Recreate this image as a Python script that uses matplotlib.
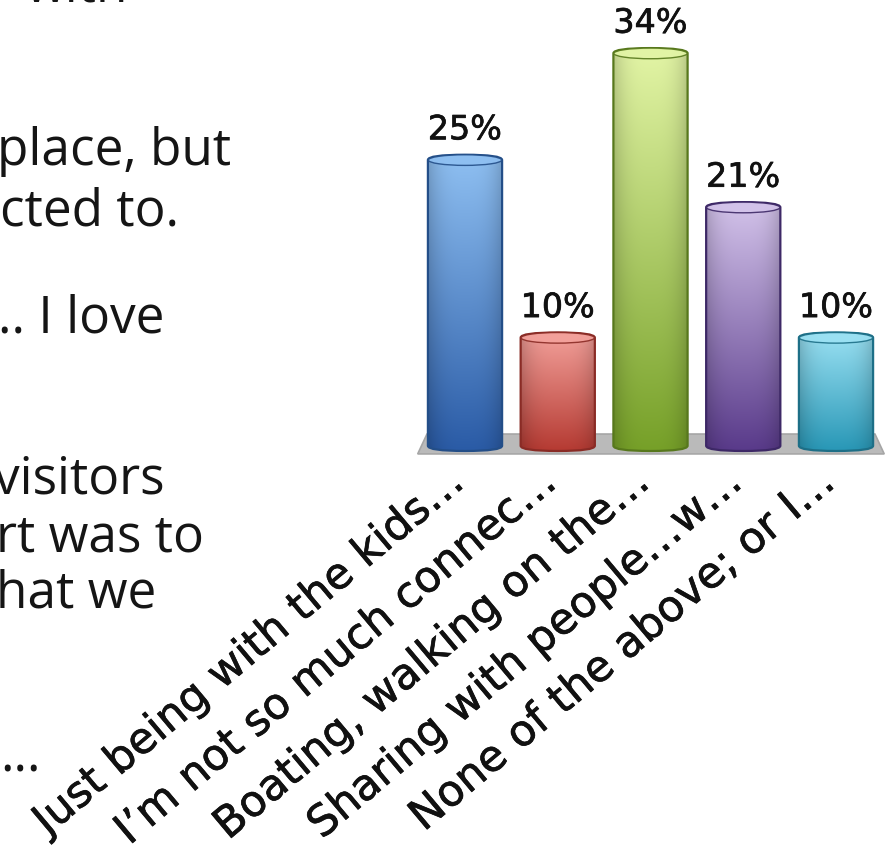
import numpy as np
import matplotlib
matplotlib.use("Agg")
import matplotlib.pyplot as plt
import matplotlib.patheffects as pe
from matplotlib.patches import FancyBboxPatch, Ellipse, Polygon
from matplotlib.colors import to_rgb

respostas = ["Just being with the kids…", "I’m not so much connec…", "Boating, walking on the…",
             "Sharing with people…w…", "None of the above; or I…"]
percentuais = [25, 10, 34, 21, 10]
rotulos = ["25%", "10%", "34%", "21%", "10%"]

cor_topo = ["#8fc0f2", "#f3a19b", "#e3f5a6", "#d3c3ea", "#9be1f3"]
cor_base = ["#2a5ba6", "#b53a32", "#76a028", "#593a8a", "#2897b6"]
cor_borda = ["#234e88", "#8a2b25", "#57781c", "#3d2866", "#1d6f87"]

# texto do slide que fica a esquerda do grafico
linhas_slide = [("with", 25, 2), ("place, but", -3, 165), ("cted to.", 0, 226),
                (".. I love", -2, 332), ("visitors", -6, 493), ("rt was to", -4, 551),
                ("hat we", -4, 608), ("...", 0, 772)]

fig = plt.figure(figsize=(8.88, 8.52), dpi=100)
W, H = 888, 852

for texto, px, py in linhas_slide:
    fig.text(px / W, 1 - py / H, texto, fontsize=37, family="Open Sans",
             color="#151515", va="baseline", ha="left")

# contorno leve para engrossar as letras do grafico
grosso = [pe.withStroke(linewidth=0.5, foreground="#111111")]

# eixo do grafico de barras
esc = 11.85
ax = fig.add_axes([409.35 / W, 379.7 / H, 5.15 * 92.75 / W, 38.3 * esc / H])
ax.patch.set_visible(False)
for lado in ax.spines.values():
    lado.set_visible(False)
ax.yaxis.set_visible(False)

x = np.arange(len(percentuais))
barras = ax.bar(x, percentuais, width=0.8, color="none", edgecolor="none")

# piso cinza
n = len(percentuais)
piso = Polygon([(-0.51, -0.25), (n - 0.48, -0.25), (n - 0.58, 1.43), (-0.41, 1.43)],
               closed=True, facecolor="#bababa", edgecolor="#a6a6a6", lw=1.2, zorder=1)
ax.add_patch(piso)

for i, b in enumerate(barras):
    x0, w, h = b.get_x(), b.get_width(), b.get_height()
    r = w / 2
    forma = FancyBboxPatch((x0, 0), w, h, boxstyle=f"round,pad=0,rounding_size={r}",
                           mutation_aspect=1.1, facecolor="none",
                           edgecolor=cor_borda[i], lw=1.6, zorder=4)
    ax.add_patch(forma)

    # gradiente vertical com sombra lateral de cilindro
    c1 = np.array(to_rgb(cor_topo[i]))
    c2 = np.array(to_rgb(cor_base[i]))
    t = np.linspace(0, 1, 200)[:, None, None]
    u = np.linspace(-1, 1, 60)[None, :, None]
    img = c1 * (1 - t) + c2 * t
    img = img * (1 - 0.18 * np.abs(u) ** 3)
    im = ax.imshow(np.clip(img, 0, 1), extent=[x0, x0 + w, 0, h], origin="upper",
                   aspect="auto", zorder=3, interpolation="bilinear")
    im.set_clip_path(forma)

    tampa = Ellipse((x0 + r, h - 0.45), w * 0.99, 0.9, facecolor=cor_topo[i],
                    edgecolor=cor_borda[i], lw=1.0, alpha=0.9, zorder=5)
    ax.add_patch(tampa)

    ax.text(x0 + r, h + 1.3, rotulos[i], ha="center", va="baseline",
            fontsize=24, color="#111111", family="DejaVu Sans", path_effects=grosso)

ax.set_xlim(-0.6, 4.55)
ax.set_ylim(-1.8, 36.5)
ax.set_xticks(x, respostas, rotation=40, ha="right", va="baseline",
              rotation_mode="anchor", fontsize=31, family="DejaVu Sans", color="#111111")
for rot in ax.get_xticklabels():
    rot.set_path_effects(grosso)
ax.tick_params(axis="x", length=0, pad=10)

fig.savefig("out.png", dpi=100)
